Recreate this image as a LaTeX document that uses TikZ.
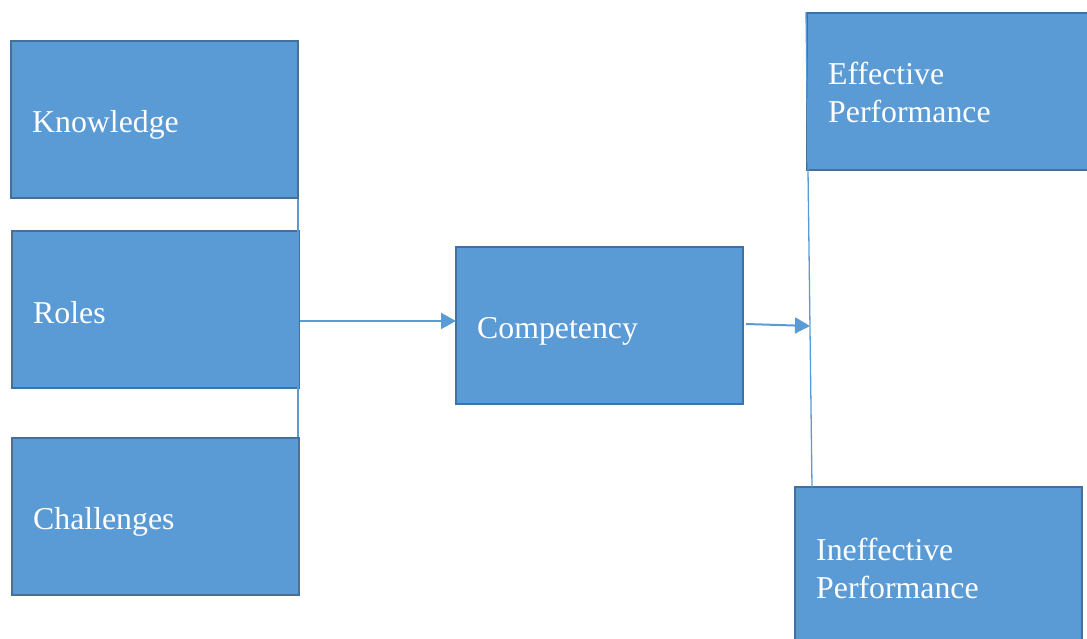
\documentclass[tikz,border=0pt]{standalone}
\usepackage{fontspec}
\setmainfont{Liberation Serif}
\usetikzlibrary{arrows.meta}
\definecolor{boxfill}{HTML}{5B9BD5}
\definecolor{boxline}{HTML}{41719C}
\definecolor{conn}{HTML}{5B9BD5}
\begin{document}
\begin{tikzpicture}[x=1pt,y=1pt,
  box/.style={draw=boxline, fill=boxfill, line width=2pt, minimum width=287pt, minimum height=157pt, inner sep=0pt},
  txt/.style={inner xsep=22pt, inner ysep=0pt, text width=245pt, align=left, text=white,
    font=\fontsize{31.8}{38}\selectfont, anchor=west},
  thin/.style={draw=conn, line width=1.3pt},
  arr/.style={draw=conn, line width=2pt, -{Triangle[length=15pt,width=16pt]}}]
\useasboundingbox (0,0) rectangle (1087,638);
\node[box] (know) at (154.5,{638-119.5}) {};
\node[box] (roles) at (155.5,{638-309.5}) {};
\node[box] (chal) at (155.5,{638-516}) {};
\node[box] (comp) at (599.5,{638-325.5}) {};
\node[box, minimum width=283pt] (eff) at (948.5,{638-92}) {};
\node[box, minimum height=158pt] (ineff) at (938.5,{638-566}) {};
\node[txt] (knowT) at ([yshift=-5pt]know.west) {Knowledge};
\node[txt] (rolesT) at ([yshift=-3pt]roles.west) {Roles};
\node[txt] (chalT) at ([yshift=-6pt]chal.west) {Challenges};
\node[txt] (compT) at ([yshift=-6pt]comp.west) {Competency};
\node[txt] (effT) at (eff.west) {Effective\\Performance};
\node[txt] (ineffT) at ([yshift=-2pt]ineff.west) {Ineffective\\Performance};
\coordinate (vt) at (806,{638-12});
\coordinate (vb) at (812,{638-487});
\coordinate (hit) at (810,{638-326});
\coordinate (cs) at (746,{638-324});
\coordinate (rs) at (300,{638-321});
\coordinate (ce) at (456,{638-321});
\draw[thin] (know.south east) ++(-1,0) -- ([xshift=-2pt]chal.north east);
\draw[thin] (vt) -- (vb);
\draw[arr] (rs) -- (ce);
\draw[arr] (cs) -- (hit);
\end{tikzpicture}
\end{document}
